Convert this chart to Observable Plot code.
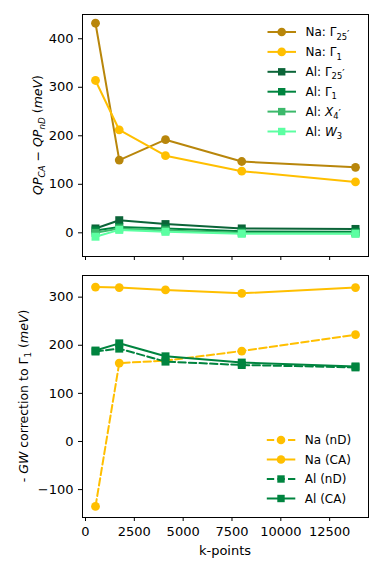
<!DOCTYPE html>
<html><head><meta charset="utf-8">
<script src="https://cdn.jsdelivr.net/npm/d3@7"></script>
<script src="https://cdn.jsdelivr.net/npm/@observablehq/plot@0.6"></script>
<style>
body{margin:0;background:#fff;font-family:"DejaVu Sans",sans-serif;}
#chart svg{display:block}
</style>
</head><body><div id="chart"></div>
<script>
// ---- data ----
const kpoints = [512, 1728, 4096, 8000, 13824];
const xTicks = [0, 2500, 5000, 7500, 10000, 12500];
const topYTicks = [0, 100, 200, 300, 400];
const botYTicks = [-100, 0, 100, 200, 300];

// top panel: QP_CA - QP_nD (meV)
const naG25 = [432, 150, 192, 147, 135];
const naG1  = [314, 212, 159, 127, 105];
const alG25 = [9, 26, 18, 9, 8];
const alG1  = [5, 12, 9, 3, 2];
const alX4  = [0, 9, 5, 0, -1];
const alW3  = [-8, 6, 2, -2, -2];
const topNames = ["Na: Γ_25′", "Na: Γ_1", "Al: Γ_25′", "Al: Γ_1", "Al: *X*_4′", "Al: *W*_3"];

// bottom panel: -GW correction to Γ1 (meV)
const naND = [-135, 163, 168, 188, 222];
const naCA = [321, 320, 315, 308, 320];
const alND = [187, 193, 166, 159, 154];
const alCA = [189, 204, 177, 164, 156];
const botNames = ["Na (nD)", "Na (CA)", "Al (nD)", "Al (CA)"];

// ---- styling ----
const FONT = "DejaVu Sans";
const cNaDark = "#B8860B", cNa = "#FFBF00";
const cAlDark = "#0B6438", cAl = "#00843F", cAlMid = "#3CB96B", cAlLight = "#5CFFA2";
const DASH = "7.4,3.2";

const topSeries = [
  {name: topNames[0], values: naG25, color: cNaDark, symbol: "circle"},
  {name: topNames[1], values: naG1, color: cNa, symbol: "circle"},
  {name: topNames[2], values: alG25, color: cAlDark, symbol: "square"},
  {name: topNames[3], values: alG1, color: cAl, symbol: "square"},
  {name: topNames[4], values: alX4, color: cAlMid, symbol: "square"},
  {name: topNames[5], values: alW3, color: cAlLight, symbol: "square"}
];
const botSeries = [
  {name: botNames[0], values: naND, color: cNa, symbol: "circle", dash: DASH},
  {name: botNames[1], values: naCA, color: cNa, symbol: "circle", dash: null},
  {name: botNames[2], values: alND, color: cAl, symbol: "square", dash: DASH},
  {name: botNames[3], values: alCA, color: cAl, symbol: "square", dash: null}
];

const xDomain = [512 - 0.05 * (13824 - 512), 13824 + 0.05 * (13824 - 512)];
const W = 382;

function seriesMarks(s) {
  const data = kpoints.map((k, i) => ({k, v: s.values[i]}));
  const r = s.symbol === "circle" ? 4.4 : 4.5;
  return [
    Plot.line(data, {x: "k", y: "v", stroke: s.color, strokeWidth: 2, strokeDasharray: s.dash || undefined}),
    Plot.dot(data, {x: "k", y: "v", fill: s.color, stroke: "none", r, symbol: s.symbol})
  ];
}

const baseStyle = {fontFamily: FONT, fontSize: "13px", color: "black", background: "white", overflow: "visible"};

const topPlot = Plot.plot({
  width: W, height: 265,
  marginLeft: 82, marginRight: 14, marginTop: 14, marginBottom: 9,
  style: baseStyle,
  x: {domain: xDomain},
  y: {domain: [-48.8, 450]},
  marks: [
    Plot.axisX({ticks: xTicks, tickSize: 4, tickFormat: () => "", label: null}),
    Plot.axisY({ticks: topYTicks, tickSize: 4, tickPadding: 5, label: null}),
    ...topSeries.flatMap(seriesMarks),
    Plot.frame({stroke: "black", strokeWidth: 1})
  ]
});

const botPlot = Plot.plot({
  width: W, height: 308,
  marginLeft: 82, marginRight: 14, marginTop: 10, marginBottom: 56,
  style: baseStyle,
  x: {domain: xDomain},
  y: {domain: [-158, 345]},
  marks: [
    Plot.axisX({ticks: xTicks, tickSize: 4, tickPadding: 5, tickFormat: d => String(d), label: null}),
    Plot.axisY({ticks: botYTicks, tickSize: 4, tickPadding: 5, tickFormat: d => d < 0 ? "\u2212" + Math.abs(d) : String(d), label: null}),
    ...botSeries.flatMap(seriesMarks),
    Plot.frame({stroke: "black", strokeWidth: 1})
  ]
});

const chart = document.getElementById("chart");
chart.appendChild(topPlot);
chart.appendChild(botPlot);

// rich text: "_xx" subscript until end, *X* italic
function richText(sel, str, baseSize) {
  const subSize = baseSize * 0.7;
  const segs = [];
  let main = str, sub = null;
  const ui = str.indexOf("_");
  if (ui >= 0) { main = str.slice(0, ui); sub = str.slice(ui + 1); }
  main.split(/(\*[^*]+\*)/).forEach(p => {
    if (!p) return;
    if (p.startsWith("*")) segs.push({t: p.slice(1, -1), it: true});
    else segs.push({t: p});
  });
  segs.forEach(s => sel.append("tspan").text(s.t).attr("font-style", s.it ? "italic" : null));
  if (sub) {
    const m = sub.match(/^([^′]*)(′?)$/);
    const sp = sel.append("tspan").attr("font-size", subSize).attr("dy", baseSize * 0.28)
      .attr("font-style", /[A-Za-z]/.test(m[1]) ? "italic" : null);
    sp.append("tspan").text(m[1]);
    if (m[2]) sp.append("tspan").text("\u2032").attr("font-size", subSize * 1.25).attr("font-style", "normal").attr("dy", -2);
  }
}

function legend(svg, series, x0, y0, dy) {
  const g = d3.select(svg).append("g").attr("font-family", FONT).attr("font-size", 12).attr("text-anchor", "start");
  series.forEach((s, i) => {
    const y = y0 + i * dy;
    g.append("line").attr("x1", x0).attr("x2", x0 + 28.5).attr("y1", y).attr("y2", y)
      .attr("stroke", s.color).attr("stroke-width", 2).attr("stroke-dasharray", s.dash || null);
    if (s.symbol === "circle") g.append("circle").attr("cx", x0 + 14.2).attr("cy", y).attr("r", 4.3).attr("fill", s.color);
    else g.append("rect").attr("x", x0 + 14.2 - 3.7).attr("y", y - 3.7).attr("width", 7.4).attr("height", 7.4).attr("fill", s.color);
    const t = g.append("text").attr("x", x0 + 38).attr("y", y).attr("dy", "0.36em");
    richText(t, s.name, 12);
  });
}
legend(topPlot, topSeries, 267.5, 32, 19.9);
legend(botPlot, botSeries, 266.8, 440 - 265, 19.5);

// y labels
{
  const t = d3.select(topPlot).append("text").attr("font-family", FONT).attr("font-size", 12.5)
    .attr("transform", "translate(37,135) rotate(-90)").attr("text-anchor", "middle").attr("dy", "0.36em");
  t.append("tspan").text("QP").attr("font-style", "italic");
  t.append("tspan").text("CA").attr("font-style", "italic").attr("font-size", 8.8).attr("dy", 3);
  t.append("tspan").text(" \u2212 ").attr("dy", -3);
  t.append("tspan").text("QP").attr("font-style", "italic");
  t.append("tspan").text("nD").attr("font-style", "italic").attr("font-size", 8.8).attr("dy", 3);
  t.append("tspan").text(" (").attr("dy", -3);
  t.append("tspan").text("meV").attr("font-style", "italic");
  t.append("tspan").text(")");
}
{
  const t = d3.select(botPlot).append("text").attr("font-family", FONT).attr("font-size", 12.5)
    .attr("transform", `translate(23,${(275 + 517) / 2 - 265}) rotate(-90)`).attr("text-anchor", "middle").attr("dy", "0.36em");
  t.append("tspan").text("- ");
  t.append("tspan").text("GW").attr("font-style", "italic");
  t.append("tspan").text(" correction to Γ");
  t.append("tspan").text("1").attr("font-size", 8.8).attr("dy", 3);
  t.append("tspan").text(" (").attr("dy", -3);
  t.append("tspan").text("meV").attr("font-style", "italic");
  t.append("tspan").text(")");
  d3.select(botPlot).append("text").attr("font-family", FONT).attr("font-size", 13)
    .attr("x", (82 + 368) / 2).attr("y", 555 - 265).attr("text-anchor", "middle").text("k-points");
}
</script>
</body></html>
